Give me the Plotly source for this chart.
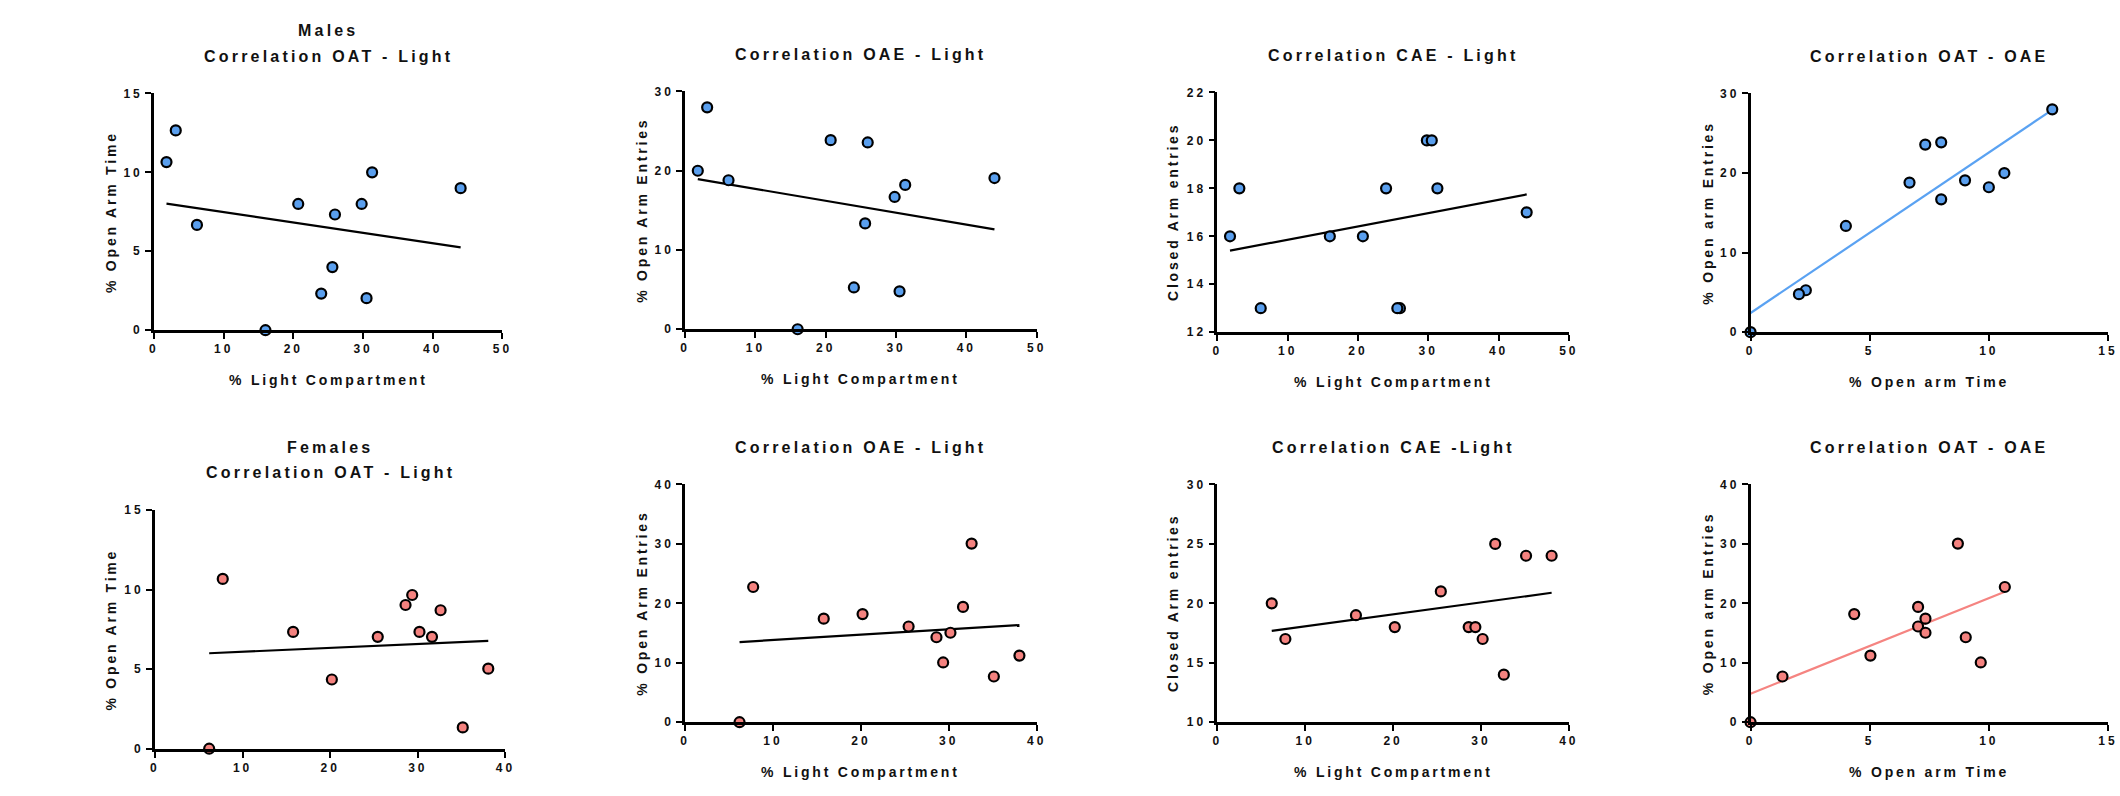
import numpy as np
import plotly.graph_objects as go

# ---------------- data ----------------
# Males
male_light = [1.8, 3.13, 6.17, 16.0, 20.7, 25.97, 25.6, 24.0, 29.8, 30.5, 31.3, 44.0]
male_oat = [10.65, 12.66, 6.67, 0.0, 8.0, 7.33, 4.0, 2.32, 8.0, 2.03, 10.0, 9.0]
male_oae = [20.0, 28.0, 18.8, 0.0, 23.86, 23.57, 13.35, 5.27, 16.69, 4.78, 18.21, 19.08]
male_cae = [16, 18, 13, 16, 16, 13, 13, 18, 20, 20, 18, 17]

# Females
female_light = [6.19, 7.74, 15.77, 20.19, 25.43, 28.6, 29.36, 30.19, 31.62, 32.6, 35.13, 38.04]
female_oat = [0.0, 10.67, 7.34, 4.35, 7.03, 9.03, 9.66, 7.34, 7.03, 8.7, 1.34, 5.03]
female_oae = [0.0, 22.75, 17.42, 18.19, 16.1, 14.29, 10.05, 15.05, 19.4, 30.05, 7.69, 11.21]
female_cae = [20, 17, 19, 18, 21, 18, 18, 17, 25, 14, 24, 24]

# tick values
ticks_light_m = [0, 10, 20, 30, 40, 50]
ticks_light_f = [0, 10, 20, 30, 40]
ticks_oat_x = [0, 5, 10, 15]
ticks_oat_y = [0, 5, 10, 15]
ticks_oae_m = [0, 10, 20, 30]
ticks_oae_f = [0, 10, 20, 30, 40]
ticks_cae_m = [12, 14, 16, 18, 20, 22]
ticks_cae_f = [10, 15, 20, 25, 30]

titles_top = ["Correlation OAT - Light", "Correlation OAE - Light",
              "Correlation CAE - Light", "Correlation OAT - OAE"]
titles_bottom = ["Correlation OAT - Light", "Correlation OAE - Light",
                 "Correlation CAE -Light", "Correlation OAT - OAE"]

# ---------------- style ----------------
W, H = 2120, 796
BLUE = "#5A9FEE"
RED = "#F4827F"
BLUE_LINE = "#5AA2F2"
RED_LINE = "#F58481"
FONT = "Liberation Sans, Arial, sans-serif"
TXT = "#111111"


def ls(text, px):
    return f"<span style='letter-spacing:{px}px'>{text}</span>"


def px_x(v):
    return v / W


def px_y(v):
    return 1 - v / H


# panel definitions: (x, y, xticks, yticks, xrange, yrange, color, linecolor, box(px))
panels = [
    (male_light, male_oat, ticks_light_m, ticks_oat_y, [0, 50], [0, 15], BLUE, "black", (150, 501, 88, 329)),
    (male_light, male_oae, ticks_light_m, ticks_oae_m, [0, 50], [0, 30], BLUE, "black", (685, 1039, 86, 328)),
    (male_light, male_cae, ticks_light_m, ticks_cae_m, [0, 50], [12, 22], BLUE, "black", (1221, 1575, 87, 331)),
    (male_oat, male_oae, ticks_oat_x, ticks_oae_m, [0, 15], [0, 30], BLUE, BLUE_LINE, (1758, 2118, 88, 331)),
    (female_light, female_oat, ticks_light_f, ticks_oat_y, [0, 40], [0, 15], RED, "black", (151, 504, 512, 755)),
    (female_light, female_oae, ticks_light_f, ticks_oae_f, [0, 40], [0, 40], RED, "black", (685, 1039, 486, 728)),
    (female_light, female_cae, ticks_light_f, ticks_cae_f, [0, 40], [10, 30], RED, "black", (1221, 1575, 486, 728)),
    (female_oat, female_oae, ticks_oat_x, ticks_oae_f, [0, 15], [0, 40], RED, RED_LINE, (1758, 2118, 486, 728)),
]

y_titles = ["% Open Arm Time", "% Open Arm Entries", "Closed Arm entries", "% Open arm Entries"]
x_titles = ["% Light Compartment", "% Light Compartment", "% Light Compartment", "% Open arm Time"]

fig = go.Figure()
layout = dict(
    width=W, height=H,
    margin=dict(l=0, r=0, t=0, b=0),
    paper_bgcolor="white", plot_bgcolor="white",
    showlegend=False,
    font=dict(family=FONT, color=TXT),
)
annotations = []

for i, (xs, ys, xt, yt, xr, yr, col, lcol, box) in enumerate(panels):
    n = i + 1
    xa = "x" if n == 1 else f"x{n}"
    ya = "y" if n == 1 else f"y{n}"
    x0, x1, ytop, ybot = box
    xs_a = np.array(xs, dtype=float)
    ys_a = np.array(ys, dtype=float)
    slope, inter = np.polyfit(xs_a, ys_a, 1)
    lx = np.array([xs_a.min(), xs_a.max()])
    fig.add_trace(go.Scatter(x=lx, y=slope * lx + inter, mode="lines",
                             line=dict(color=lcol, width=2.2),
                             xaxis=xa, yaxis=ya, cliponaxis=False, hoverinfo="skip"))
    fig.add_trace(go.Scatter(x=xs, y=ys, mode="markers",
                             marker=dict(size=10, color=col, line=dict(color="black", width=2.2)),
                             xaxis=xa, yaxis=ya, cliponaxis=False))
    axis_common = dict(showgrid=False, zeroline=False, showline=True, linecolor="black",
                       linewidth=2.6, ticks="outside", ticklen=6, tickwidth=2.4,
                       tickcolor="black", fixedrange=True,
                       tickfont=dict(family=FONT, size=12, color=TXT))
    layout["xaxis" if n == 1 else f"xaxis{n}"] = dict(
        axis_common, domain=[px_x(x0), px_x(x1)], range=xr,
        tickmode="array", tickvals=xt, ticktext=[ls(f"<b>{v}</b>", 3) for v in xt],
        anchor=ya)
    layout["yaxis" if n == 1 else f"yaxis{n}"] = dict(
        axis_common, domain=[px_y(ybot), px_y(ytop)], range=yr,
        tickmode="array", tickvals=yt, ticktext=[ls(f"<b>{v}</b>", 3) for v in yt],
        anchor=xa)

    cx = (x0 + x1) / 2
    cy = (ytop + ybot) / 2
    row = 0 if n <= 4 else 1
    c = (n - 1) % 4
    title = titles_top[c] if row == 0 else titles_bottom[c]
    # title
    ty = ytop - 38 if not (c == 0) else ytop - 37
    if c == 0:
        annotations.append(dict(text=ls(f"<b>{'Males' if row == 0 else 'Females'}</b>", 3.2),
                                x=px_x(cx), y=px_y(ytop - 64), xref="paper", yref="paper",
                                showarrow=False, xanchor="center", yanchor="middle",
                                font=dict(size=16, family=FONT, color=TXT)))
    annotations.append(dict(text=ls(f"<b>{title}</b>", 3.2),
                            x=px_x(cx), y=px_y(ytop - 38), xref="paper", yref="paper",
                            showarrow=False, xanchor="center", yanchor="middle",
                            font=dict(size=16, family=FONT, color=TXT)))
    # y title
    ytx = [107, 642, 1177, 1715][c]
    annotations.append(dict(text=ls(f"<b>{y_titles[c]}</b>", 2.8),
                            x=px_x(ytx), y=px_y(cy), xref="paper", yref="paper",
                            showarrow=False, xanchor="center", yanchor="middle", textangle=-90,
                            font=dict(size=14, family=FONT, color=TXT)))
    # x title (bottom-left one lies outside the visible area)
    if not (row == 1 and c == 0):
        annotations.append(dict(text=ls(f"<b>{x_titles[c]}</b>", 2.8),
                                x=px_x(cx), y=px_y(ybot + 51), xref="paper", yref="paper",
                                showarrow=False, xanchor="center", yanchor="middle",
                                font=dict(size=14, family=FONT, color=TXT)))

layout["annotations"] = annotations
fig.update_layout(**layout)
fig.write_html("out.html")
